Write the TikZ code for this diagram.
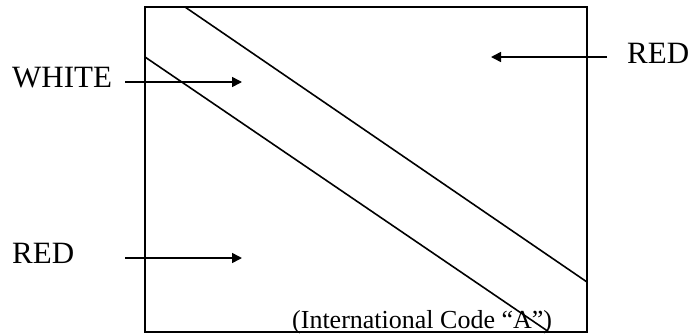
\documentclass[tikz,border=0pt]{standalone}
\usepackage{fontspec}
\setmainfont{Liberation Serif}
\usetikzlibrary{arrows.meta}

\begin{document}
\begin{tikzpicture}[x=1pt, y=-1pt,
		frame/.style={line width=2pt},
		stripe/.style={line width=1.6pt},
		pointer/.style={line width=1.6pt, -{Triangle[length=10pt, width=10pt]}},
		colour/.style={inner sep=0pt, anchor=base west, font=\fontsize{31}{31}\selectfont},
		caption/.style={inner sep=0pt, anchor=base west, font=\fontsize{26}{26}\selectfont}]
		\useasboundingbox (0,0) rectangle (692,335);

		% Flag outline and stripe edges
		\coordinate (tl) at (145,7);
		\coordinate (br) at (587,332);
		\coordinate (upperstart) at (185,7);
		\coordinate (upperend) at (587,282);
		\coordinate (lowerstart) at (145,57);
		\coordinate (lowerend) at (549,332);
		\draw[frame] (tl) rectangle (br);
		\draw[stripe] (upperstart) -- (upperend);
		\draw[stripe] (lowerstart) -- (lowerend);

		% Labels
		\node[colour] (white) at (12,87) {WHITE};
		\node[colour] (redright) at (627,63) {RED};
		\node[colour] (redleft) at (12,263) {RED};
		\node[caption] (code) at (292,328) {(International Code “A”)};

		% Arrows
		\coordinate (whitetail) at (125,82);
		\coordinate (whitehead) at (242,82);
		\coordinate (redrighttail) at (607,57);
		\coordinate (redrighthead) at (491,57);
		\coordinate (redlefttail) at (125,258);
		\coordinate (redlefthead) at (242,258);
		\draw[pointer] (whitetail) -- (whitehead);
		\draw[pointer] (redrighttail) -- (redrighthead);
		\draw[pointer] (redlefttail) -- (redlefthead);
	\end{tikzpicture}
\end{document}
